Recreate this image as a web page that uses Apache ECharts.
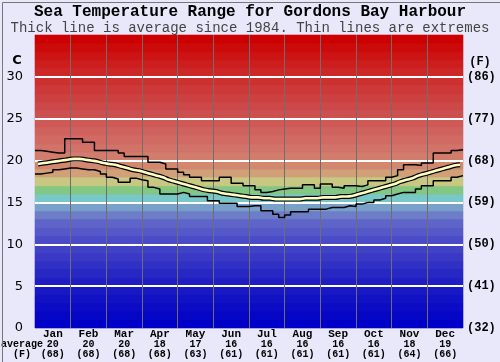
<!DOCTYPE html>
<html><head><meta charset="utf-8">
<script src="https://cdn.jsdelivr.net/npm/echarts@6/dist/echarts.min.js"></script>
<style>html,body{margin:0;padding:0;background:#e8e8fa}#c{width:500px;height:362px}</style>
</head><body><div id="c"></div>
<script>
const months = ['Jan','Feb','Mar','Apr','May','Jun','Jul','Aug','Sep','Oct','Nov','Dec'];
const monthAvgC = [20,20,20,18,17,16,16,16,16,16,18,19];
const monthAvgF = [68,68,68,68,63,61,61,61,61,61,64,66];
const yTicksC = [0,5,10,15,20,25,30];
const yTicksF = ['(32)','(41)','(50)','(59)','(68)','(77)','(86)'];
// 72 periods per year (6 per month)
const maxTemp = [21.2,21.1,21.0,20.9,20.9,22.6,22.6,22.6,22.2,22.2,21.2,21.2,
  21.2,21.2,20.9,20.5,20.5,20.5,20.5,19.8,19.8,19.6,19.0,19.0,
  18.6,18.3,18.0,18.0,17.6,17.6,17.6,18.0,18.0,17.3,17.3,17.0,
  17.0,16.5,16.2,16.3,16.5,16.6,16.7,16.7,16.7,17.1,17.1,16.7,
  17.2,17.2,16.8,16.7,17.0,17.0,16.9,17.1,17.6,17.6,17.6,18.0,
  18.2,18.9,19.5,19.5,19.4,19.7,19.7,20.9,20.9,20.9,21.2,21.3];
const avgTemp = [19.6,19.7,19.8,19.9,20.0,20.1,20.2,20.2,20.1,20.0,19.9,19.7,
  19.6,19.5,19.3,19.1,18.9,18.8,18.6,18.4,18.2,18.0,17.7,17.5,
  17.3,17.1,16.9,16.7,16.5,16.4,16.3,16.1,16.0,15.9,15.8,15.7,
  15.6,15.6,15.5,15.5,15.4,15.4,15.4,15.4,15.4,15.5,15.5,15.5,
  15.6,15.6,15.6,15.7,15.7,15.8,16.0,16.2,16.4,16.6,16.8,17.0,
  17.2,17.5,17.7,17.9,18.2,18.4,18.6,18.8,19.0,19.2,19.4,19.5];
const minTemp = [18.4,18.5,18.6,18.9,19.0,19.1,19.1,19.0,18.9,18.9,18.7,18.4,
  18.0,17.8,17.4,17.4,17.9,17.7,17.6,16.8,16.6,16.0,16.0,16.0,
  16.2,16.0,15.7,15.7,15.7,15.2,15.2,14.9,14.9,14.9,14.5,14.5,
  14.6,14.6,14.0,14.0,13.6,13.2,13.5,13.9,13.9,13.9,14.2,14.2,
  14.2,14.4,14.4,14.4,14.6,14.5,14.8,15.0,15.0,15.3,15.5,15.8,
  16.0,16.2,16.2,16.2,16.6,17.0,17.0,17.6,17.6,17.6,18.0,18.2];

const N = maxTemp.length;
const perMonth = N / months.length;
const yMax = 35;
function stepData(arr){ const d = arr.map((v,i)=>[i,v]); d.push([N, arr[N-1]]); return d; }
function smoothData(arr){ return arr.map((v,i)=>[i+0.5,v]); }

// colour ramp for the background bands (style only)
const rampStops = [[0,[0,0,200]],[5,[30,30,195]],[10,[75,75,200]],[12,[95,100,200]],[13,[110,125,200]],[14,[120,160,200]],
  [15,[120,200,200]],[16,[130,200,130]],[17,[200,200,130]],[18,[210,160,120]],[19,[210,135,110]],[21,[210,115,105]],
  [25,[205,80,80]],[30,[205,40,40]],[34,[204,0,0]]];
function bandColor(t){
  if (t <= rampStops[0][0]) return 'rgb('+rampStops[0][1].join(',')+')';
  for (let k=1;k<rampStops.length;k++){
    if (t <= rampStops[k][0]){
      const [a,ca]=rampStops[k-1],[b,cb]=rampStops[k];
      const f=(t-a)/(b-a);
      return 'rgb('+ca.map((c,j)=>Math.round(c+(cb[j]-c)*f)).join(',')+')';
    }
  }
  return 'rgb('+rampStops[rampStops.length-1][1].join(',')+')';
}
const bands = [];
for (let i=0;i<yMax;i++) bands.push([i, i+1]);

const chart = echarts.init(document.getElementById('c'), null, {renderer:'canvas'});
const mono = 'Liberation Mono';
chart.setOption({
  backgroundColor: '#e8e8fa',
  animation: false,
  grid: {left:35, right:37, top:35, bottom:34},
  xAxis: [
    {type:'value', min:0, max:N, show:false},
    {type:'category', data:months, position:'bottom', boundaryGap:true,
     axisLine:{show:false}, axisTick:{show:false}, splitLine:{show:false},
     axisLabel:{margin:1, interval:0, color:'#000',
       formatter:(v,i)=>'{m|'+v+'}\n{v|'+monthAvgC[i]+'}\n{v|('+monthAvgF[i]+')}',
       rich:{m:{fontFamily:mono,fontWeight:'bold',fontSize:11,lineHeight:10,color:'#000'},
             v:{fontFamily:mono,fontWeight:'bold',fontSize:10,lineHeight:10,color:'#000'}}}}
  ],
  yAxis: [
    {type:'value', min:0, max:yMax, interval:5, position:'left',
     axisLine:{show:false}, axisTick:{show:false}, splitLine:{show:false},
     axisLabel:{margin:12, fontFamily:'DejaVu Sans', fontSize:13, color:'#000',
       formatter:v=>yTicksC.indexOf(v)>=0?String(v):''}},
    {type:'value', min:0, max:yMax, interval:5, position:'right',
     axisLine:{show:false}, axisTick:{show:false}, splitLine:{show:false},
     axisLabel:{margin:4, fontFamily:mono, fontWeight:'bold', fontSize:12, color:'#000',
       formatter:v=>{const k=yTicksC.indexOf(v);return k>=0?yTicksF[k]:'';}}}
  ],
  series: [
    {type:'custom', xAxisIndex:0, yAxisIndex:0, z:1, silent:true, data:bands,
     encode:{x:-1, y:[0,1]},
     renderItem:(params, api)=>{
       const lo=api.value(0), hi=api.value(1);
       const p1=api.coord([0,hi]), p2=api.coord([N,lo]);
       const c=bandColor(lo);
       return {type:'rect', shape:{x:p1[0], y:Math.round(p1[1]), width:p2[0]-p1[0], height:Math.round(p2[1])-Math.round(p1[1])},
         style:{fill:c, stroke:c, lineWidth:0.6}};
     }},
    {type:'line', xAxisIndex:0, yAxisIndex:0, z:3, data:[], silent:true,
     markLine:{silent:true, symbol:'none', label:{show:false}, animation:false,
       lineStyle:{color:'#ffffff', width:2, type:'solid'},
       data: yTicksC.filter(v=>v>0).map(v=>({yAxis:v}))}},
    {type:'line', xAxisIndex:0, yAxisIndex:0, z:3, data:[], silent:true,
     markLine:{silent:true, symbol:'none', label:{show:false}, animation:false,
       lineStyle:{color:'#6e6e6e', width:1, type:'solid'},
       data: months.slice(1).map((m,i)=>({xAxis:(i+1)*perMonth}))}},
    {type:'line', xAxisIndex:0, yAxisIndex:0, z:5, step:'end', symbol:'none', silent:true,
     data:stepData(maxTemp), lineStyle:{color:'#000', width:1.5}},
    {type:'line', xAxisIndex:0, yAxisIndex:0, z:5, step:'end', symbol:'none', silent:true,
     data:stepData(minTemp), lineStyle:{color:'#000', width:1.5}},
    {type:'line', xAxisIndex:0, yAxisIndex:0, z:6, smooth:true, symbol:'none', silent:true,
     data:smoothData(avgTemp), lineStyle:{color:'#000', width:5}},
    {type:'line', xAxisIndex:0, yAxisIndex:0, z:7, smooth:true, symbol:'none', silent:true,
     data:smoothData(avgTemp), lineStyle:{color:'#ffffc4', width:2.6}}
  ],
  graphic: [
    {type:'rect', left:0, top:0, shape:{x:0.5,y:0.5,width:499,height:361}, style:{fill:'none', stroke:'#777', lineWidth:1}, z:100},
    {type:'text', x:250, y:12, style:{text:'Sea Temperature Range for Gordons Bay Harbour', font:'bold 16px "Liberation Mono"', fill:'#000', align:'center', verticalAlign:'middle'}},
    {type:'text', x:250, y:28, style:{text:'Thick line is average since 1984. Thin lines are extremes', font:'14px "Liberation Mono"', fill:'#444', align:'center', verticalAlign:'middle'}},
    {type:'text', x:17, y:61, style:{text:'C', font:'bold 13px "DejaVu Sans"', fill:'#000', align:'center', verticalAlign:'middle'}},
    {type:'text', x:480, y:62, style:{text:'(F)', font:'bold 12px "Liberation Mono"', fill:'#000', align:'center', verticalAlign:'middle'}},
    {type:'text', x:22, y:344, style:{text:'average', font:'bold 10px "Liberation Mono"', fill:'#000', align:'center', verticalAlign:'middle'}},
    {type:'text', x:22, y:354, style:{text:'(F)', font:'bold 10px "Liberation Mono"', fill:'#000', align:'center', verticalAlign:'middle'}}
  ]
});
</script></body></html>
